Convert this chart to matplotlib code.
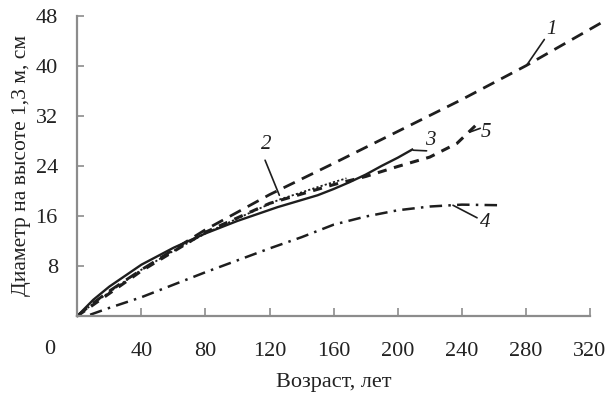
import matplotlib
matplotlib.use("Agg")
import matplotlib.pyplot as plt

# ---- data ----
x1 = [0, 10, 20, 40, 60, 80, 120, 160, 200, 240, 280, 330]
y1 = [0, 2.1, 4.0, 7.4, 10.6, 13.8, 19.4, 24.4, 29.5, 34.6, 40.0, 47.3]

x2 = [0, 10, 20, 40, 60, 80, 100, 126, 150, 160, 168]
y2 = [0, 2.0, 3.8, 7.4, 10.4, 13.2, 15.6, 18.6, 20.6, 21.4, 22.0]

x3 = [0, 10, 20, 40, 60, 80, 100, 125, 150, 160, 170, 180, 190, 200, 209]
y3 = [0, 2.6, 4.7, 8.2, 10.9, 13.2, 15.2, 17.4, 19.3, 20.3, 21.4, 22.6, 24.0, 25.3, 26.6]

x4 = [8, 20, 40, 60, 80, 100, 120, 140, 160, 180, 200, 220, 240, 265]
y4 = [0.2, 1.3, 3.0, 5.0, 7.0, 8.9, 10.8, 12.6, 14.6, 15.9, 16.9, 17.5, 17.8, 17.7]

x5 = [0, 10, 20, 40, 60, 80, 120, 160, 180, 200, 220, 237, 250]
y5 = [0, 1.8, 3.6, 7.2, 10.3, 13.4, 18.0, 21.0, 22.3, 23.9, 25.4, 27.6, 30.8]

xticks = [0, 40, 80, 120, 160, 200, 240, 280, 320]
xtick_labels = ["", "40", "80", "120", "160", "200", "240", "280", "320"]
yticks = [0, 8, 16, 24, 32, 40, 48]
ytick_labels = ["", "8", "16", "24", "32", "40", "48"]

curve_labels = ["1", "2", "3", "4", "5"]

# ---- figure ----
plt.rcParams['font.family'] = ['Liberation Serif', 'DejaVu Serif']
fig = plt.figure(figsize=(6.14, 4.03), dpi=100)
ax = fig.add_axes([77.3/614, 1-316/403, (590-77.3)/614, (316-15.7)/403])

c = '#1e1e1e'
ax.plot(x1, y1, color=c, lw=2.0, ls=(0, (4.5, 2.8)), clip_on=False)
ax.plot(x2, y2, color=c, lw=1.3, ls=(0, (1.2, 1.2)), clip_on=False)
ax.plot(x3, y3, color=c, lw=1.7, ls='-', clip_on=False)
ax.plot(x4, y4, color=c, lw=1.8, ls=(0, (5, 2.5, 1, 2.5)), clip_on=False)
ax.plot(x5, y5, color=c, lw=2.2, ls=(0, (3, 2.5)), clip_on=False)

ax.set_xlim(0, 320)
ax.set_ylim(0, 48)
for s in ['top', 'right']:
    ax.spines[s].set_visible(False)
for s in ['left', 'bottom']:
    ax.spines[s].set_color('#8c8c8c')
    ax.spines[s].set_linewidth(1.6)

ax.set_xticks(xticks)
ax.set_xticklabels(xtick_labels)
ax.set_yticks(yticks)
ax.set_yticklabels(ytick_labels)
ax.tick_params(axis='x', direction='in', length=6, width=1.2, color='#8c8c8c',
               pad=19, labelsize=16, labelcolor='#222222')
ax.tick_params(axis='y', direction='in', length=5, width=1.2, color='#8c8c8c',
               pad=14, labelsize=16, labelcolor='#222222')
fig.text(50/614, 1-349/403, "0", ha='center', va='center', fontsize=16, color='#222222')

ax.set_xlabel("Возраст, лет", fontsize=16, labelpad=8, color='#222222')
ax.set_ylabel("Диаметр на высоте 1,3 м, см", fontsize=15.5, labelpad=3, color='#222222')

# curve labels with leader lines
lab_pos = [(296, 45.8), (118, 27.4), (220.5, 28.0), (254.5, 15.0), (255, 29.4)]
lead_from = [(291.5, 44.2), (117.2, 24.9), (218, 26.4), (249.5, 15.7), (251.5, 30.0)]
lead_to = [(280.5, 40.1), (126.1, 19.3), (209.7, 26.5), (234.5, 17.7), (245.0, 29.4)]
for lab, p, a, b in zip(curve_labels, lab_pos, lead_from, lead_to):
    ax.text(p[0], p[1], lab, fontsize=15, style='italic', ha='center', va='center',
            color=c)
    ax.annotate("", xy=b, xytext=a,
                arrowprops=dict(arrowstyle='-', color=c, lw=1.2,
                                shrinkA=0, shrinkB=0))

fig.savefig("out.png", dpi=100)
